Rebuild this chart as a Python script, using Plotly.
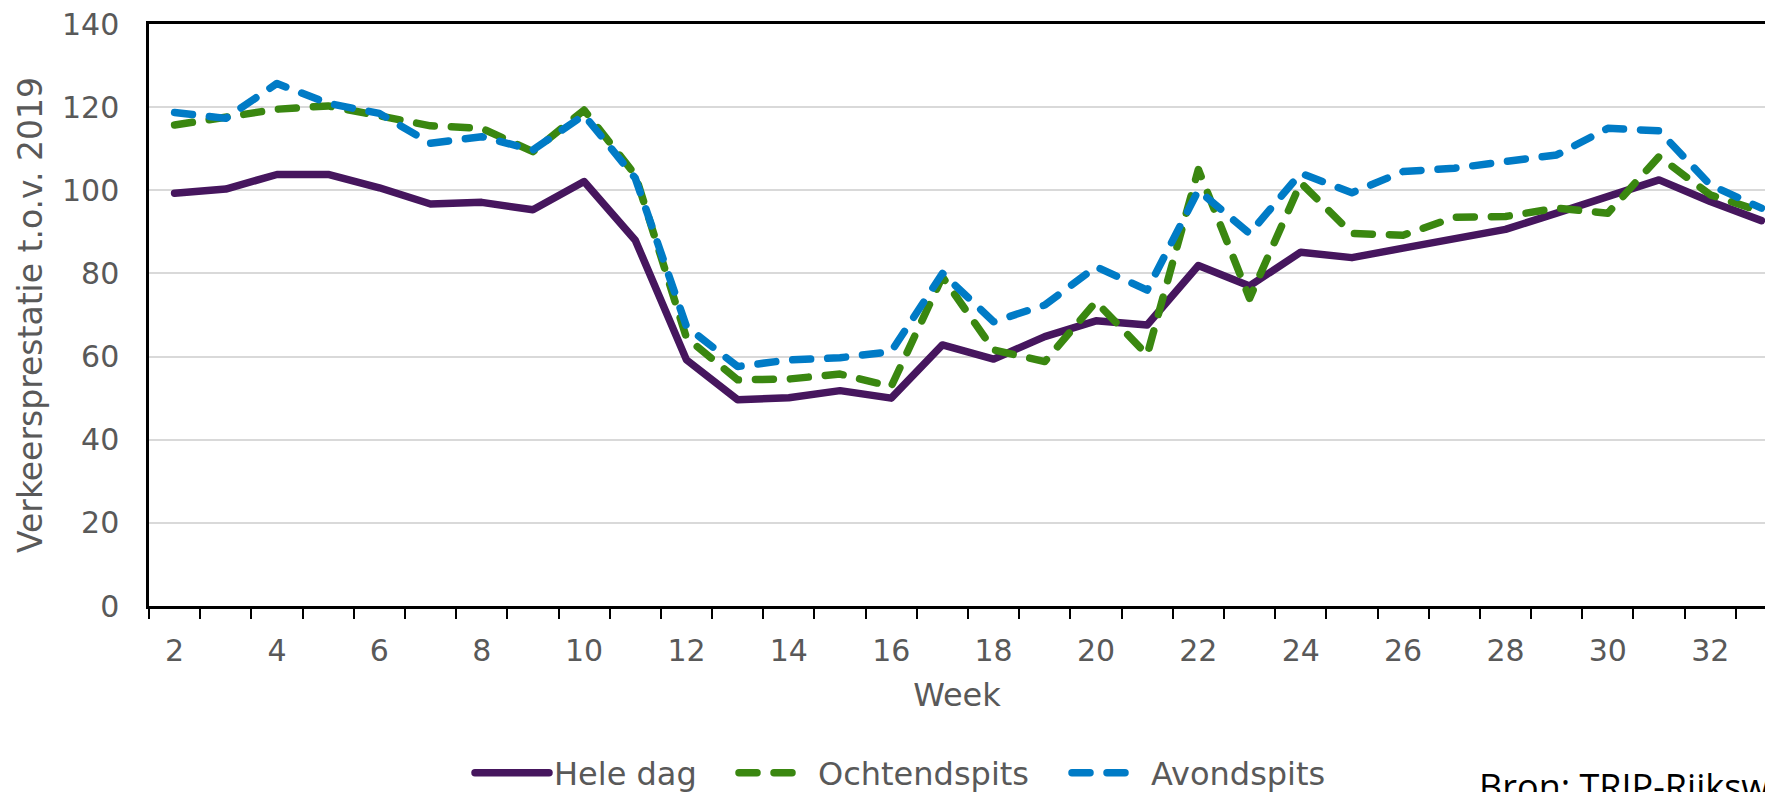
import plotly.graph_objects as go

weeks = list(range(2, 34))
hele_dag = [99.3, 100.3, 103.8, 103.8, 100.6, 96.7, 97.1, 95.3, 102.1, 88.0,
            59.2, 49.6, 50.1, 51.8, 50.0, 62.8, 59.4, 64.8, 68.6, 67.6,
            81.9, 77.0, 85.1, 83.8, 86.1, 88.4, 90.6, 94.5, 98.5, 102.5,
            97.3, 92.7]
ochtendspits = [115.7, 117.7, 119.5, 120.3, 118.1, 115.5, 114.9, 109.3, 119.3, 103.7,
                64.5, 54.4, 54.6, 55.8, 52.8, 79.2, 61.6, 58.8, 73.2, 60.4,
                105.0, 74.0, 101.8, 89.6, 89.2, 93.5, 93.7, 95.7, 94.5, 108.1,
                98.9, 94.9]
avondspits = [118.7, 117.3, 125.7, 120.9, 118.5, 111.3, 112.9, 109.7, 118.1, 102.9,
              67.2, 57.6, 59.2, 59.7, 61.2, 80.0, 68.4, 72.4, 81.6, 76.0,
              100.0, 89.6, 104.1, 99.4, 104.5, 105.3, 106.9, 108.5, 114.9, 114.3,
              101.3, 95.7]
series_names = ["Hele dag", "Ochtendspits", "Avondspits"]
x_tick_vals = list(range(2, 33, 2))
x_tick_text = [str(v) for v in x_tick_vals]
y_tick_vals = list(range(0, 141, 20))

FONT = "DejaVu Sans"
GRAY = "#595959"
W, H = 1765, 792
ML, MT, MB = 149, 24, 186
PW, PH = W - ML, H - MT - MB


def px_x(px):
    return (px - ML) / PW


def px_y(py):
    return (H - MB - py) / PH


fig = go.Figure()
fig.add_trace(go.Scatter(x=weeks, y=hele_dag, name=series_names[0], mode="lines",
                         legend="legend",
                         line=dict(color="#46165E", width=7.5)))
fig.add_trace(go.Scatter(x=weeks, y=ochtendspits, name=series_names[1], mode="lines",
                         legend="legend2",
                         line=dict(color="#3A8710", width=7.5, dash="18px,17px")))
fig.add_trace(go.Scatter(x=weeks, y=avondspits, name=series_names[2], mode="lines",
                         legend="legend3",
                         line=dict(color="#007BC6", width=7.5, dash="18px,17px")))

leg_common = dict(orientation="h", xanchor="left", yanchor="middle", y=px_y(773),
                  font=dict(family=FONT, size=32, color=GRAY), itemwidth=74,
                  bgcolor="rgba(0,0,0,0)", borderwidth=0)

fig.update_layout(
    width=W, height=H,
    margin=dict(l=ML, r=0, t=MT, b=MB, pad=0, autoexpand=False),
    paper_bgcolor="white", plot_bgcolor="white",
    font=dict(family=FONT, color=GRAY, size=30),
    showlegend=True,
    legend=dict(x=px_x(470), **leg_common),
    legend2=dict(x=px_x(734), **leg_common),
    legend3=dict(x=px_x(1067), **leg_common),
    xaxis=dict(range=[1.5, 33.07], tickmode="array", tickvals=x_tick_vals, ticktext=x_tick_text,
               ticks="", showgrid=False, zeroline=False,
               showline=True, linecolor="black", linewidth=2.5, mirror=True,
               ticklabelstandoff=16,
               tickfont=dict(family=FONT, size=30, color=GRAY),
               minor=dict(tickmode="array", tickvals=[w + 0.5 for w in range(1, 33)],
                          ticks="outside", ticklen=10, tickwidth=2, tickcolor="black",
                          showgrid=False),
               title=dict(text="Week", standoff=17,
                          font=dict(family=FONT, size=32, color=GRAY))),
    yaxis=dict(range=[0, 140], tickmode="array", tickvals=y_tick_vals,
               ticks="", showgrid=True, gridcolor="#D9D9D9", gridwidth=2, zeroline=False,
               showline=True, linecolor="black", linewidth=2.5,
               ticklabelstandoff=21,
               tickfont=dict(family=FONT, size=30, color=GRAY),
               title=dict(text="Verkeersprestatie t.o.v. 2019", standoff=10,
                          font=dict(family=FONT, size=33, color=GRAY))),
    annotations=[dict(text="Bron: TRIP-Rijkswaterstaat", xref="paper", yref="paper",
                      x=px_x(1477), y=px_y(760), xanchor="left", yanchor="top", showarrow=False,
                      font=dict(family="Open Sans", size=36, color="black"))],
)

post = ("var s=document.createElement('style');"
        "s.innerHTML='html,body{margin:0;padding:0;overflow:hidden}"
        ".scatterlayer .js-line,.legendlines path{stroke-linecap:round;stroke-linejoin:round}"
        ".legendlines path[style*=\"18px\"]"
        "{stroke-dasharray:18px,17px,18px,200px !important}';"
        "document.head.appendChild(s);")

fig.write_html("out.html", post_script=post, config={"displayModeBar": False})
